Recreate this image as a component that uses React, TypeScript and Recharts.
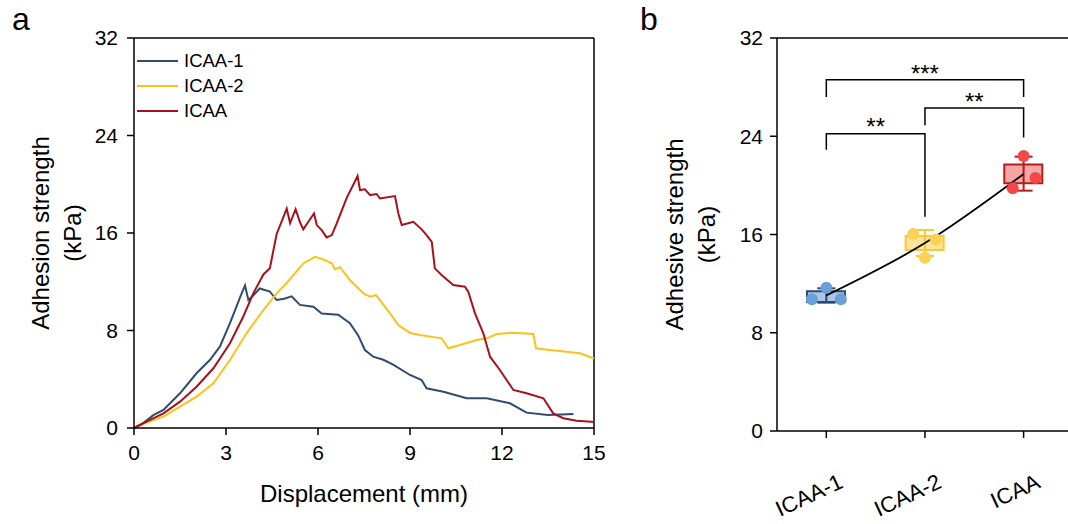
import React from 'react';
import {
  LineChart,
  ComposedChart,
  Line,
  Bar,
  Cell,
  Scatter,
  ErrorBar,
  XAxis,
  YAxis,
  Legend,
  Label,
  ReferenceLine,
} from 'recharts';

const FONT = '"Liberation Sans", Arial, Helvetica, sans-serif';

// ---- panel a: adhesion curves, [displacement (mm), strength (kPa)]
const icaa1Curve: [number, number][] = [
  [0, 0], [0.3, 0.4], [0.63, 1.05], [0.96, 1.48], [1.5, 2.85], [2.04, 4.49], [2.48, 5.6],
  [2.8, 6.67], [3.13, 8.6], [3.51, 11.05], [3.62, 11.7], [3.73, 10.5], [3.9, 10.9], [4.1, 11.45],
  [4.43, 11.2], [4.65, 10.5], [4.9, 10.6], [5.14, 10.8], [5.41, 10.1], [5.85, 9.95], [6.12, 9.4],
  [6.66, 9.3], [7.04, 8.6], [7.31, 7.6], [7.53, 6.4], [7.8, 5.85], [8.13, 5.6], [8.45, 5.2],
  [9.0, 4.35], [9.38, 3.94], [9.54, 3.26], [10.09, 2.98], [10.85, 2.44], [11.5, 2.44],
  [12.26, 2.03], [12.8, 1.26], [13.5, 1.07], [14.33, 1.15],
];
const icaa2Curve: [number, number][] = [
  [0, 0], [0.41, 0.44], [0.96, 0.93], [1.5, 1.75], [2.04, 2.57], [2.59, 3.67], [3.13, 5.58],
  [3.67, 7.77], [4.22, 9.68], [4.65, 11.05], [4.98, 11.9], [5.52, 13.5], [5.9, 14.05],
  [6.17, 13.84], [6.45, 13.51], [6.55, 13.02], [6.72, 13.2], [7.04, 12.14], [7.31, 11.46],
  [7.48, 11.05], [7.7, 10.77], [7.89, 10.91], [8.02, 10.5], [8.35, 9.41], [8.62, 8.45],
  [9.0, 7.8], [9.33, 7.63], [10.03, 7.36], [10.25, 6.54], [10.63, 6.81], [11.17, 7.22],
  [11.5, 7.36], [11.83, 7.71], [12.37, 7.82], [13.02, 7.71], [13.11, 6.54], [13.56, 6.4],
  [14.11, 6.26], [14.54, 6.13], [15, 5.7],
];
const icaaCurve: [number, number][] = [
  [0, 0], [0.41, 0.52], [0.96, 1.2], [1.5, 2.16], [2.04, 3.39], [2.59, 4.9], [3.13, 6.95],
  [3.56, 9.13], [3.89, 11.05], [4.22, 12.6], [4.43, 13.1], [4.65, 15.9], [4.98, 18.0],
  [5.09, 16.8], [5.27, 17.95], [5.41, 16.9], [5.52, 16.3], [5.68, 16.9], [5.87, 17.6],
  [5.96, 16.65], [6.12, 16.24], [6.28, 15.64], [6.45, 15.83], [6.61, 16.79], [6.94, 18.9],
  [7.2, 20.2], [7.29, 20.67], [7.37, 19.52], [7.53, 19.58], [7.7, 19.11], [7.91, 19.2],
  [8.02, 18.84], [8.51, 19.03], [8.62, 17.6], [8.73, 16.65], [9.11, 16.92], [9.38, 16.3],
  [9.54, 15.83], [9.71, 15.28], [9.81, 13.1], [10.03, 12.55], [10.41, 11.73], [10.79, 11.59],
  [10.9, 11.18], [11.12, 9.41], [11.39, 7.77], [11.61, 5.85], [11.93, 4.76], [12.37, 3.12],
  [12.8, 2.85], [13.35, 2.44], [13.67, 1.2], [14.0, 0.8], [14.43, 0.6], [14.92, 0.52], [15, 0.5],
];
const curveNames = ['ICAA-1', 'ICAA-2', 'ICAA'];
const curveColors = ['#2f4b6e', '#fcc21b', '#a8111a'];
const xTicksA = [0, 3, 6, 9, 12, 15];
const yTicks = [0, 8, 16, 24, 32];

// ---- panel b: box plot per group
const groups = ['ICAA-1', 'ICAA-2', 'ICAA'];
const groupPoints = [
  [10.72, 11.67, 10.72],
  [16.04, 14.1, 15.6],
  [19.76, 22.4, 20.6],
];
const jitter = [
  [-0.147, 0, 0.147],
  [-0.12, 0, 0.11],
  [-0.11, 0, 0.12],
];
const whiskerLow = [10.45, 14.25, 19.57];
const boxQ1 = [10.5, 14.74, 20.17];
const boxQ3 = [11.38, 15.88, 21.7];
const whiskerHigh = [11.62, 16.37, 22.34];
const groupMeans = [11.04, 15.3, 20.93];

const boxFill = ['#a9c6e8', '#fde49c', '#f7a6a6'];
const boxStroke = ['#2d4a70', '#fcc634', '#b41c1c'];
const dotFill = ['#6b9fd8', '#fdd154', '#f24848'];

// significance brackets
const bracketPairs = [[0, 1], [1, 2], [0, 2]];
const bracketTop = [24.2, 26.3, 28.6];
const bracketLeftEnd = [22.9, 24.9, 27.2];
const bracketRightEnd = [17.45, 23.9, 27.2];
const bracketStars = ['**', '**', '***'];
const starY = [25.15, 27.17, 29.48];

const axisStyle = { stroke: '#000', strokeWidth: 1.5 };
const tickFont = { fontSize: 21, fill: '#000', fontFamily: FONT };
const B_DOMAIN: [number, number] = [-0.5, 2.45];

const curves = [icaa1Curve, icaa2Curve, icaaCurve].map((c) => c.map(([x, y]) => ({ x, y })));

const boxData = groups.map((g, i) => ({
  x: i,
  name: g,
  box: [boxQ1[i], boxQ3[i]],
  mean: groupMeans[i],
}));

const renderYTitle = (lines: string[], offsets: number[]) => (props: any) => {
  const vb = props.viewBox || {};
  const cy = vb.y + vb.height / 2;
  return (
    <g>
      {lines.map((t, i) => {
        const cx = vb.x + offsets[i];
        return (
          <text
            key={t}
            x={cx}
            y={cy}
            transform={`rotate(-90, ${cx}, ${cy})`}
            textAnchor="middle"
            dominantBaseline="central"
            fontSize={24}
            fontFamily={FONT}
            fill="#000"
          >
            {t}
          </text>
        );
      })}
    </g>
  );
};

const renderXTitle = (props: any) => {
  const vb = props.viewBox || {};
  return (
    <text
      x={vb.x + vb.width / 2}
      y={vb.y + 65}
      textAnchor="middle"
      dominantBaseline="central"
      fontSize={24}
      fontFamily={FONT}
      fill="#000"
    >
      Displacement (mm)
    </text>
  );
};

const renderLegend = (props: any) => {
  const items = [...(props.payload || [])].sort(
    (a: any, b: any) => curveNames.indexOf(a.value) - curveNames.indexOf(b.value),
  );
  return (
    <div style={{ fontFamily: FONT, fontSize: 18.5, color: '#000' }}>
      {items.map((e: any) => (
        <div key={e.value} style={{ display: 'flex', alignItems: 'center', height: 24.7 }}>
          <span style={{ display: 'inline-block', width: 41, borderTop: `2px solid ${e.color}`, marginRight: 6 }} />
          <span>{e.value}</span>
        </div>
      ))}
    </div>
  );
};

const CategoryTick = (props: any) => {
  const { x, y, payload } = props;
  const tx = x + 18;
  const ty = y + 47;
  return (
    <text
      x={tx}
      y={ty}
      transform={`rotate(-25, ${tx}, ${ty})`}
      textAnchor="end"
      fontSize={22}
      fontFamily={FONT}
      fill="#000"
    >
      {groups[payload.value]}
    </text>
  );
};

const Dot = (color: string) => (p: any) => <circle cx={p.cx} cy={p.cy} r={6} fill={color} />;

const StarText = (p: any) => (
  <text x={p.cx} y={p.cy + 13} textAnchor="middle" fontSize={24} fontFamily={FONT} fill="#000">
    {p.payload.text}
  </text>
);

const PanelLetter = ({ text, left }: { text: string; left: number }) => (
  <div
    style={{
      position: 'absolute',
      left,
      top: 3,
      fontSize: 32,
      lineHeight: '32px',
      fontFamily: FONT,
      color: '#000',
    }}
  >
    {text}
  </div>
);

export default function App() {
  return (
    <div
      style={{
        position: 'absolute',
        left: 0,
        top: 0,
        width: 1068,
        height: 524,
        overflow: 'hidden',
        background: '#fff',
      }}
    >
      <div style={{ position: 'absolute', left: 0, top: 0 }}>
        <LineChart width={620} height={524} margin={{ top: 38, right: 26, bottom: 0, left: 0 }}>
          <XAxis
            type="number"
            dataKey="x"
            domain={[0, 15]}
            ticks={xTicksA}
            height={96}
            tickSize={7}
            tickMargin={10}
            axisLine={axisStyle}
            tickLine={axisStyle}
            tick={tickFont}
          >
            <Label content={renderXTitle} />
          </XAxis>
          <YAxis
            type="number"
            domain={[0, 32]}
            ticks={yTicks}
            width={134}
            tickSize={7}
            tickMargin={9}
            axisLine={axisStyle}
            tickLine={axisStyle}
            tick={tickFont}
          >
            <Label content={renderYTitle(['Adhesion strength', '(kPa)'], [40, 72])} />
          </YAxis>
          <ReferenceLine y={32} stroke="#000" strokeWidth={1.5} />
          <ReferenceLine x={15} stroke="#000" strokeWidth={1.5} />
          <Legend
            layout="horizontal"
            verticalAlign="middle"
            align="center"
            content={renderLegend}
            wrapperStyle={{ left: 137, top: 49, width: 'auto', height: 'auto' }}
          />
          {curves.map((data, i) => (
            <Line
              key={curveNames[i]}
              data={data}
              dataKey="y"
              name={curveNames[i]}
              type="linear"
              stroke={curveColors[i]}
              strokeWidth={2}
              dot={false}
              activeDot={false}
              isAnimationActive={false}
            />
          ))}
        </LineChart>
      </div>

      <div style={{ position: 'absolute', left: 620, top: 0 }}>
        <ComposedChart
          width={448}
          height={524}
          data={boxData}
          margin={{ top: 38, right: 0, bottom: 0, left: 0 }}
        >
          <XAxis
            xAxisId="cat"
            type="number"
            dataKey="x"
            domain={B_DOMAIN}
            ticks={[0, 1, 2]}
            allowDataOverflow
            height={93}
            tickSize={7}
            axisLine={axisStyle}
            tickLine={axisStyle}
            tick={<CategoryTick />}
          />
          <XAxis xAxisId="pts" type="number" dataKey="x" domain={B_DOMAIN} allowDataOverflow hide />
          <YAxis
            type="number"
            dataKey="y"
            domain={[0, 32]}
            ticks={yTicks}
            allowDataOverflow
            width={157}
            tickSize={7}
            tickMargin={7}
            axisLine={axisStyle}
            tickLine={axisStyle}
            tick={tickFont}
          >
            <Label content={renderYTitle(['Adhesive strength', '(kPa)'], [54, 86])} />
          </YAxis>
          <ReferenceLine xAxisId="cat" y={32} stroke="#000" strokeWidth={1.5} />

          {groups.map((g, i) => {
            const mid = (whiskerLow[i] + whiskerHigh[i]) / 2;
            return (
              <Scatter
                key={`wh-${g}`}
                xAxisId="pts"
                data={[{ x: i, y: mid, err: [mid - whiskerLow[i], whiskerHigh[i] - mid] }]}
                shape={() => <g />}
                isAnimationActive={false}
              >
                <ErrorBar dataKey="err" direction="y" width={9} stroke={boxStroke[i]} strokeWidth={2} isAnimationActive={false} />
              </Scatter>
            );
          })}

          <Bar xAxisId="cat" dataKey="box" barSize={38} isAnimationActive={false}>
            {boxData.map((d, i) => (
              <Cell key={d.name} fill={boxFill[i]} stroke={boxStroke[i]} strokeWidth={2} />
            ))}
          </Bar>

          {groups.map((g, i) => (
            <Scatter
              key={`pts-${g}`}
              xAxisId="pts"
              data={groupPoints[i].map((v, j) => ({ x: i + jitter[i][j], y: v }))}
              shape={Dot(dotFill[i])}
              isAnimationActive={false}
            />
          ))}

          <Line
            xAxisId="cat"
            dataKey="mean"
            type="monotone"
            stroke="#000"
            strokeWidth={1.8}
            dot={false}
            activeDot={false}
            isAnimationActive={false}
          />

          {bracketPairs.map(([a, b], i) => (
            <Line
              key={`br-${i}`}
              xAxisId="pts"
              data={[
                { x: a, y: bracketLeftEnd[i] },
                { x: a, y: bracketTop[i] },
                { x: b, y: bracketTop[i] },
                { x: b, y: bracketRightEnd[i] },
              ]}
              dataKey="y"
              type="linear"
              stroke="#000"
              strokeWidth={1.5}
              dot={false}
              activeDot={false}
              isAnimationActive={false}
            />
          ))}

          <Scatter
            xAxisId="pts"
            data={bracketPairs.map(([a, b], i) => ({ x: (a + b) / 2, y: starY[i], text: bracketStars[i] }))}
            shape={StarText}
            isAnimationActive={false}
          />
        </ComposedChart>
      </div>

      <PanelLetter text="a" left={12} />
      <PanelLetter text="b" left={640} />
    </div>
  );
}
